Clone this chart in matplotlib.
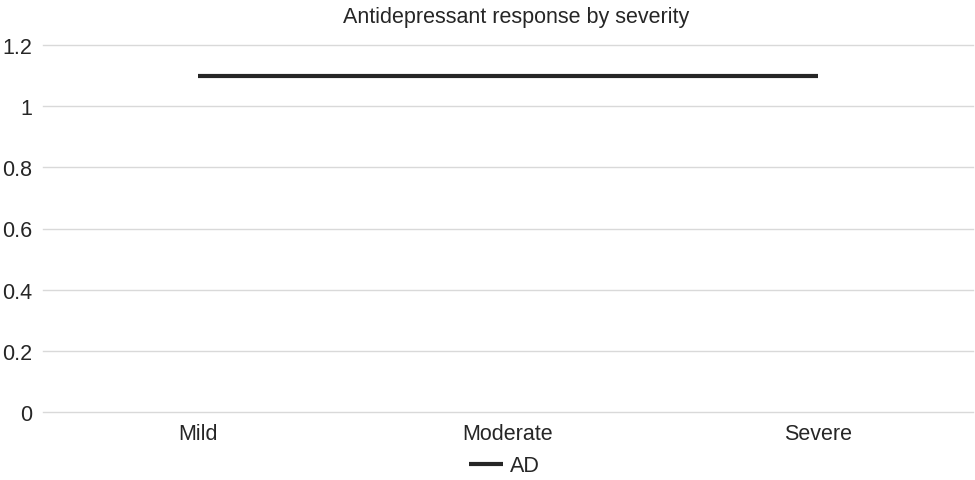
import numpy as np
from matplotlib import pyplot as plt

categories = ["Mild", "Moderate", "Severe"]
ad_values = [1.1, 1.1, 1.1]
y_ticks = [0, 0.2, 0.4, 0.6, 0.8, 1.0, 1.2]
y_labels = ["0", "0.2", "0.4", "0.6", "0.8", "1", "1.2"]

plt.rcParams["font.family"] = ["Liberation Sans", "DejaVu Sans"]
fs = 15.5

fig = plt.figure(figsize=(9.75, 4.81), dpi=100)
ax = fig.add_axes([43 / 975, 1 - 413 / 481, 930 / 975, 367 / 481])

x = np.arange(len(categories))
ax.plot(x, ad_values, color="#262626", lw=3.0, solid_capstyle="butt", label="AD")

ax.set_xlim(-0.5, len(categories) - 0.5)
ax.set_ylim(0, 1.2)
ax.set_xticks(x)
ax.set_xticklabels(categories, fontsize=fs, color="#262626")
ax.set_yticks(y_ticks)
ax.set_yticklabels(y_labels, fontsize=fs, color="#262626")
ax.tick_params(axis="y", length=0, pad=8)
ax.tick_params(axis="x", length=0, pad=8)
ax.grid(axis="y", color="#d9d9d9", lw=1)
for gl in ax.get_ygridlines():
    gl.set_clip_on(False)
ax.set_axisbelow(True)
for s in ax.spines.values():
    s.set_visible(False)

fig.text(516 / 975, 1 - 18 / 481, "Antidepressant response by severity", ha="center", va="center",
         fontsize=fs, color="#262626")
fig.legend(loc="center", bbox_to_anchor=(504 / 975, 1 - 467 / 481), frameon=False, fontsize=fs,
           handlelength=1.6, handletextpad=0.3, labelcolor="#262626")

fig.savefig("out.png", dpi=100)
